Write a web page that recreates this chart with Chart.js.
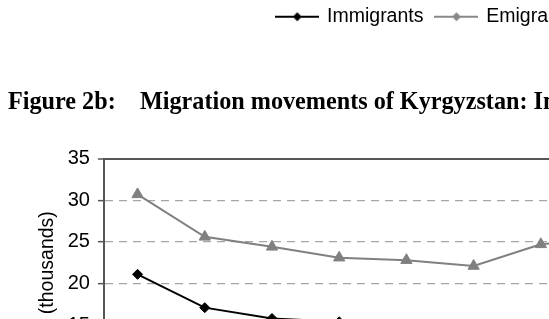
<!DOCTYPE html>
<html>
<head>
<meta charset="utf-8">
<script src="https://cdn.jsdelivr.net/npm/chart.js@4"></script>
<style>
  html, body { margin: 0; padding: 0; background: #fff; overflow: hidden; }
  #wrap { position: relative; width: 549px; height: 319px; overflow: hidden; }
  #chart { position: absolute; left: 0; top: 0; }
</style>
</head>
<body>
<div id="wrap">
  <canvas id="chart" width="860" height="410"></canvas>
</div>
<script>
// Data (thousands)
const years = ['1999', '2000', '2001', '2002', '2003', '2004', '2005', '2006', '2007', '2008', '2009'];
const immigrants = [21.1, 17.1, 15.8, 15.4, 14.3, 13.2, 12.6, 12.1, 11.8, 12.4, 11.9];
const emigrants = [30.7, 25.6, 24.4, 23.1, 22.8, 22.1, 24.7, 25.4, 24.6, 23.8, 23.2];
const yTicks = [10, 15, 20, 25, 30, 35];

const sans = "'Liberation Sans', Arial, sans-serif";
const serif = "'Liberation Serif', 'Times New Roman', serif";

// Legend marker: short line with a diamond in the middle
function legendMarker(color, lineWidth) {
  const c = document.createElement('canvas');
  c.width = 44;
  c.height = 12;
  const g = c.getContext('2d');
  g.strokeStyle = color;
  g.lineWidth = lineWidth;
  g.beginPath();
  g.moveTo(0, 6);
  g.lineTo(44, 6);
  g.stroke();
  g.fillStyle = color;
  g.beginPath();
  g.moveTo(22, 1.5);
  g.lineTo(26.5, 6);
  g.lineTo(22, 10.5);
  g.lineTo(17.5, 6);
  g.closePath();
  g.fill();
  return c;
}

const markers = [legendMarker('#000', 2), legendMarker('#888', 1.8)];

new Chart(document.getElementById('chart'), {
  type: 'line',
  data: {
    labels: years,
    datasets: [{
      label: 'Immigrants',
      data: immigrants,
      borderColor: '#000',
      backgroundColor: '#000',
      borderWidth: 2,
      pointStyle: 'rectRot',
      pointRadius: 5,
      pointBorderWidth: 1,
      tension: 0
    }, {
      label: 'Emigrants',
      data: emigrants,
      borderColor: '#808080',
      backgroundColor: '#808080',
      borderWidth: 2,
      pointStyle: 'triangle',
      pointRadius: 6.5,
      pointBorderWidth: 1,
      tension: 0
    }]
  },
  options: {
    responsive: false,
    animation: false,
    layout: {
      padding: { left: 8, right: 16.7, top: -6, bottom: 7.2 }
    },
    plugins: {
      tooltip: { enabled: false },
      legend: {
        position: 'top',
        labels: {
          usePointStyle: true,
          pointStyleWidth: 40,
          padding: 13,
          color: '#000',
          font: { family: sans, size: 19.5 },
          generateLabels(chart) {
            const items = Chart.defaults.plugins.legend.labels.generateLabels(chart);
            items.forEach((it, i) => { it.pointStyle = markers[i]; });
            return items;
          }
        }
      },
      title: {
        display: true,
        text: 'Figure 2b:    Migration movements of Kyrgyzstan: Immigrants and emigrants',
        align: 'start',
        weight: 500,
        color: '#000',
        font: { family: serif, size: 24.2, weight: 'bold' },
        padding: { top: 52, bottom: 41 }
      }
    },
    scales: {
      x: {
        offset: true,
        grid: { display: false, drawTicks: true, tickLength: 6 },
        border: { color: '#555', width: 2 },
        ticks: { color: '#000', font: { family: sans, size: 20 }, padding: 3 }
      },
      y: {
        min: 10,
        max: 35,
        afterBuildTicks(axis) {
          axis.ticks = yTicks.map(v => ({ value: v }));
        },
        grid: {
          color: ctx => ctx.tick && ctx.tick.value === 35 ? '#555' : '#a6a6a6',
          lineWidth: ctx => ctx.tick && ctx.tick.value === 35 ? 2 : 1.3,
          tickColor: '#555',
          tickWidth: 1.5,
          tickLength: 6
        },
        border: {
          color: '#555',
          width: 2,
          dash: ctx => ctx.tick && ctx.tick.value === 35 ? [] : [8, 6]
        },
        ticks: { color: '#000', font: { family: sans, size: 20 }, padding: 8 },
        title: {
          display: true,
          text: '(thousands)',
          color: '#000',
          font: { family: sans, size: 19.5 },
          padding: { top: 28.3, bottom: 0 }
        }
      }
    }
  }
});
</script>
</body>
</html>
